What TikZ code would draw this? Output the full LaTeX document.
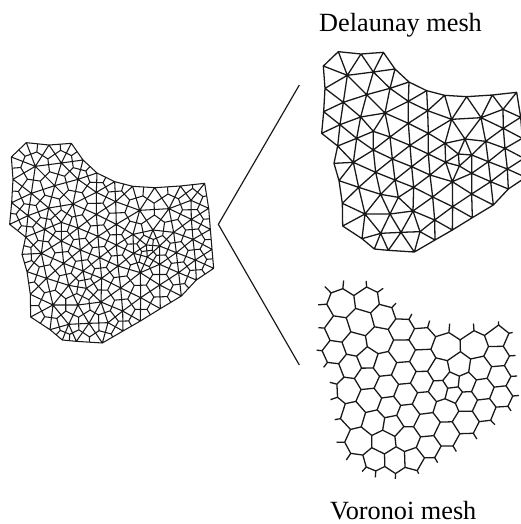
\documentclass[tikz,border=0pt]{standalone}
\usepackage{fontspec}
\setmainfont{Liberation Serif}
\usetikzlibrary{positioning}

% vertices of the mesh, same set for all three pictures
\foreach \n/\x/\y in {A1/115/35,A2/183/42,A3/250/37,A4/285/87,A5/327/126,A6/380/152,A7/434/166,A8/500/170,A9/577/165,A10/650/157,
  A11/662/232,A12/667/295,A32/672/355,A13/677/412,A14/625/447,A15/580/495,A16/517/533,A17/457/570,A18/405/600,A19/343/636,
  A20/265/631,A21/223/627,A22/186/596,A23/128/558,A24/127/490,A25/117/422,A26/102/370,A27/113/318,A28/65/280,A29/71/215,A30/75/145,A31/70/78,
  B1/142/106,B2/220/96,B3/270/145,B4/200/164,B5/130/187,B6/325/184,B7/383/212,B8/255/219,B9/182/231,B10/120/254,
  B11/325/250,B12/385/280,B13/220/274,B14/270/291,B15/170/295,B16/220/330,B17/330/316,B18/160/367,B19/277/357,B20/227/397,
  B21/335/380,B22/176/442,B23/285/420,B24/242/463,B25/341/442,B26/295/472,B27/455/238,B28/543/233,B29/609/208,B30/495/297,
  B31/557/304,B32/610/265,B33/435/310,B34/475/342,B35/515/345,B36/565/365,B37/622/387,B38/385/342,B39/437/367,B40/478/378,
  B41/515/400,B42/390/405,B43/457/425,B44/572/425,B45/515/462,B46/398/471,B47/458/500,B48/404/540,B49/615/325,B50/270/522,
  B51/339/513,B52/195/522,B53/242/580,B54/303/577,B55/360/575}{%
  \expandafter\xdef\csname x\n\endcsname{\x}%
  \expandafter\xdef\csname y\n\endcsname{\y}%
}

\gdef\delpath{}
\gdef\vorpath{}

\newcommand{\addedge}[2]{%
  \ifcsname e#1#2\endcsname
    \xdef\vorpath{\vorpath (\csname e#1#2\endcsname)--(\ccx,\ccy)}%
  \else\ifcsname e#2#1\endcsname
    \xdef\vorpath{\vorpath (\csname e#2#1\endcsname)--(\ccx,\ccy)}%
  \else
    \expandafter\xdef\csname e#1#2\endcsname{\ccx,\ccy}%
  \fi\fi}

% centre of one triangle, kept for the dual edges
\newcommand{\meshtri}[3]{%
  \pgfmathsetmacro{\ux}{(\csname x#2\endcsname-\csname x#1\endcsname)/100}%
  \pgfmathsetmacro{\uy}{(\csname y#2\endcsname-\csname y#1\endcsname)/100}%
  \pgfmathsetmacro{\wx}{(\csname x#3\endcsname-\csname x#1\endcsname)/100}%
  \pgfmathsetmacro{\wy}{(\csname y#3\endcsname-\csname y#1\endcsname)/100}%
  \pgfmathsetmacro{\dd}{2*(\ux*\wy-\uy*\wx)}%
  \pgfmathsetmacro{\uu}{\ux*\ux+\uy*\uy}%
  \pgfmathsetmacro{\ww}{\wx*\wx+\wy*\wy}%
  \pgfmathsetmacro{\ccx}{\csname x#1\endcsname+100*(0.75*(\wy*\uu-\uy*\ww)/\dd+0.25*(\ux+\wx)/3)}%
  \pgfmathsetmacro{\ccy}{\csname y#1\endcsname+100*(0.75*(\ux*\ww-\wx*\uu)/\dd+0.25*(\uy+\wy)/3)}%
  \xdef\delpath{\delpath
    (\csname x#1\endcsname,\csname y#1\endcsname)--(\csname x#2\endcsname,\csname y#2\endcsname)--(\csname x#3\endcsname,\csname y#3\endcsname)--cycle}%
  \addedge{#1}{#2}\addedge{#2}{#3}\addedge{#3}{#1}}

\newcommand{\addstub}[2]{%
  \pgfmathsetmacro{\mx}{(\csname x#1\endcsname+\csname x#2\endcsname)/2}%
  \pgfmathsetmacro{\my}{(\csname y#1\endcsname+\csname y#2\endcsname)/2}%
  \ifcsname e#1#2\endcsname
    \xdef\vorpath{\vorpath (\csname e#1#2\endcsname)--(\mx,\my)}%
  \else
    \xdef\vorpath{\vorpath (\csname e#2#1\endcsname)--(\mx,\my)}%
  \fi}

\foreach \a/\b/\c in {A1/A2/B1,A2/B2/B1,A2/A3/B2,A3/A4/B2,A31/A1/B1,A30/A31/B1,A30/B1/B5,B1/B4/B5,B1/B2/B4,B2/B3/B4,
  B2/A4/B3,A4/A5/B3,A5/B6/B3,A5/A6/B6,A6/B7/B6,A6/A7/B7,A7/B27/B7,A7/A8/B27,A8/B28/B27,A8/A9/B28,
  A9/B29/B28,A9/A10/B29,A10/A11/B29,B29/A11/B32,B28/B29/B32,B28/B32/B31,B30/B28/B31,B27/B28/B30,B27/B30/B33,B12/B27/B33,
  B7/B27/B12,B7/B12/B11,B6/B7/B11,B8/B6/B11,B3/B6/B8,B4/B3/B8,B4/B8/B9,B5/B4/B9,A30/B5/A29,A29/B5/B10,
  B5/B9/B10,A29/B10/A28,A28/B10/A27,B10/B15/A27,B10/B9/B15,B9/B13/B15,B9/B8/B13,B8/B14/B13,B8/B11/B14,B11/B17/B14,
  B11/B12/B17,B12/B38/B17,B12/B33/B38,B33/B39/B38,B33/B34/B39,B34/B40/B39,B34/B35/B40,B30/B35/B34,B30/B34/B33,B30/B31/B35,
  B31/B36/B35,B31/B49/B36,B31/B32/B49,B32/A12/B49,B32/A11/A12,A12/A32/B49,B49/A32/B37,B36/B49/B37,A32/A13/B37,B37/A13/A14,
  B44/B37/A14,B36/B37/B44,B41/B36/B44,B35/B36/B41,B40/B35/B41,B40/B41/B43,B39/B40/B43,B39/B43/B42,B38/B39/B42,B21/B38/B42,
  B17/B38/B21,B19/B17/B21,B14/B17/B19,B16/B14/B19,B13/B14/B16,B15/B13/B16,A27/B15/B18,B15/B16/B18,A27/B18/A26,A26/B18/A25,
  B18/B22/A25,B18/B20/B22,B18/B16/B20,B16/B19/B20,B19/B23/B20,B19/B21/B23,B23/B21/B25,B21/B42/B25,B25/B42/B46,B42/B43/B46,
  B43/B47/B46,B43/B45/B47,B41/B45/B43,B41/B44/B45,A25/B22/A24,B22/B20/B24,B20/B23/B24,B24/B23/B26,B23/B25/B26,B22/B24/B52,
  B24/B50/B52,A24/B22/B52,A24/A23/B52,A23/A22/B52,A22/B53/B52,B52/B53/B50,A22/A21/B53,A21/A20/B53,A20/B54/B53,A20/A19/B54,
  B54/A19/B55,B55/A19/A18,B55/A18/B48,B51/B55/B48,B51/B54/B55,B50/B54/B51,B50/B53/B54,B24/B26/B50,B26/B51/B50,B25/B51/B26,
  B25/B46/B51,B46/B48/B51,B46/B47/B48,B47/A17/B48,A17/A18/B48,B47/A16/A17,B47/B45/A16,B45/A15/A16,B45/B44/A15,B44/A14/A15}{%
  \meshtri{\a}{\b}{\c}%
}
\foreach \a [remember=\a as \prev (initially A31)] in {A1,A2,A3,A4,A5,A6,A7,A8,A9,A10,A11,A12,A32,A13,A14,A15,A16,A17,A18,A19,A20,A21,A22,A23,A24,A25,A26,A27,A28,A29,A30,A31}{%
  \addstub{\prev}{\a}%
}

\begin{document}
\begin{tikzpicture}[
    x=0.01cm, y=-0.01cm,
    meshline/.style={line width=1.1pt, black!90, line join=round},
    label/.style={font=\fontsize{22.4}{26}\selectfont, anchor=base west, inner sep=0pt}
]
\useasboundingbox (0,0) rectangle (1563,1572);
\clip (0,0) rectangle (1563,1572);

% Both meshes together
\begin{scope}[shift={(-36,393)}]
\draw[meshline, line width=0.9pt] \delpath;
\draw[meshline, line width=0.9pt] \vorpath;
\end{scope}

% Delaunay mesh
\begin{scope}[shift={(900,120)}]
\draw[meshline] \delpath;
\end{scope}

% Voronoi mesh
\begin{scope}[shift={(882,803)}]
\draw[meshline] \vorpath;
\end{scope}

% Split lines
\coordinate (apex) at (655,673);
\coordinate (upper) at (898,255);
\coordinate (lower) at (898,1095);
\draw[line width=1pt, black!90] (upper) -- (apex) -- (lower);

% Labels
\node[label] (delaunay) at (957,93) {Delaunay mesh};
\node[label] (voronoi) at (990,1558) {Voronoi mesh};

\end{tikzpicture}
\end{document}
